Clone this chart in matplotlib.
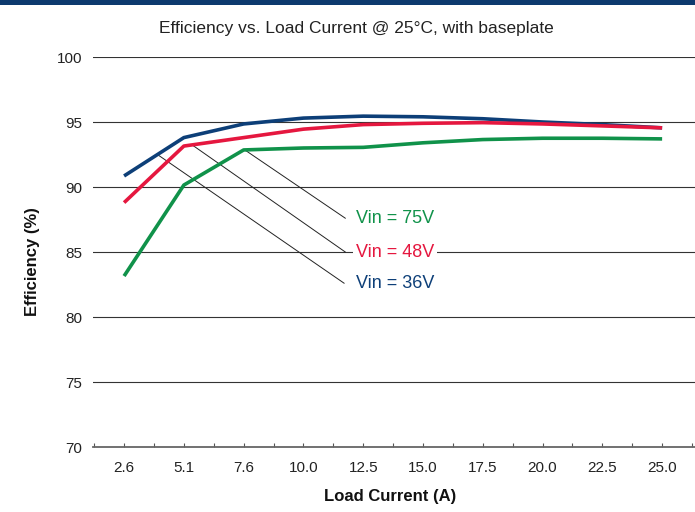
import matplotlib.pyplot as plt
from matplotlib.patches import Rectangle

plt.rcParams['font.family'] = ['Liberation Sans Narrow', 'Liberation Sans', 'DejaVu Sans']

currents = ["2.6", "5.1", "7.6", "10.0", "12.5", "15.0", "17.5", "20.0", "22.5", "25.0"]
eff_36v = [90.85, 93.8, 94.85, 95.3, 95.45, 95.4, 95.25, 95.0, 94.8, 94.55]
eff_48v = [88.8, 93.15, 93.8, 94.45, 94.8, 94.9, 94.95, 94.85, 94.7, 94.55]
eff_75v = [83.15, 90.15, 92.85, 93.0, 93.05, 93.4, 93.65, 93.75, 93.75, 93.7]
y_ticks = [70, 75, 80, 85, 90, 95, 100]

blue = "#0d3f78"
red = "#e5173f"
green = "#10924a"

fig = plt.figure(figsize=(6.95, 5.12), dpi=100)
ax = fig.add_axes([93 / 695, 1 - 447 / 512, 1 - 93 / 695, (447 - 57) / 512])

x = list(range(len(currents)))
ax.plot(x, eff_36v, color=blue, lw=2.6, solid_capstyle="butt", zorder=4)
ax.plot(x, eff_48v, color=red, lw=2.6, solid_capstyle="butt", zorder=5)
ax.plot(x, eff_75v, color=green, lw=2.6, solid_capstyle="butt", zorder=3)

ax.set_xlim(-0.52, 9.55)
ax.set_ylim(70, 100)
ax.set_yticks(y_ticks)
ax.set_yticklabels([str(v) for v in y_ticks], fontsize=11, color="#222222")
ax.set_xticks(x)
ax.set_xticklabels(currents, fontsize=11, color="#222222")
ax.set_xticks([i + 0.5 for i in range(-1, 10)], minor=True)
ax.tick_params(axis="y", length=0, pad=8)
ax.tick_params(axis="x", which="both", length=3, width=0.8, color="#555555", direction="in", pad=10)

for v in y_ticks[1:]:
    ax.axhline(v, color="#333333", lw=0.8, zorder=1)
for s in ["top", "right", "left"]:
    ax.spines[s].set_visible(False)
ax.spines["bottom"].set_color("#666666")
ax.spines["bottom"].set_linewidth(1.3)

# leader lines to labels
leaders = [((2.02, 92.85), (3.7, 87.6)),
           ((1.15, 93.2), (3.7, 85.0)),
           ((0.57, 92.46), (3.68, 82.6))]
for (x0, y0), (x1, y1) in leaders:
    ax.plot([x0, x1], [y0, y1], color="#222222", lw=0.7, zorder=2)

ax.text(3.88, 87.6, "Vin = 75V", color=green, fontsize=13, va="center", ha="left",
        bbox=dict(facecolor="white", edgecolor="none", pad=2), zorder=6)
ax.text(3.88, 85.0, "Vin = 48V", color=red, fontsize=13, va="center", ha="left",
        bbox=dict(facecolor="white", edgecolor="none", pad=2), zorder=6)
ax.text(3.88, 82.6, "Vin = 36V", color=blue, fontsize=13, va="center", ha="left",
        bbox=dict(facecolor="white", edgecolor="none", pad=2), zorder=6)

fig.text(356 / 695, 1 - 28 / 512, "Efficiency vs. Load Current @ 25\u00b0C, with baseplate",
         ha="center", va="center", fontsize=12.5, color="#222222")
fig.text(33 / 695, 1 - 262 / 512, "Efficiency (%)", rotation=90, ha="center", va="center",
         fontsize=12, fontweight="bold", color="#111111")
fig.text(390 / 695, 1 - 497 / 512, "Load Current (A)", ha="center", va="center",
         fontsize=12, fontweight="bold", color="#111111")

fig.patches.append(Rectangle((0, 1 - 5 / 512), 1, 5 / 512, transform=fig.transFigure,
                             facecolor="#0d3a6e", edgecolor="none"))

fig.savefig("out.png", dpi=100)
